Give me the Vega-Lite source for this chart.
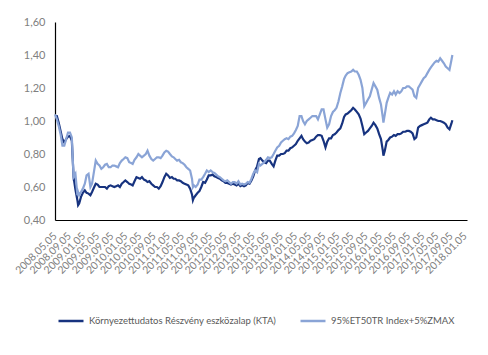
{
  "$schema": "https://vega.github.io/schema/vega-lite/v6.json",
  "width": 412,
  "height": 198,
  "autosize": {"type": "none"},
  "padding": {"left": 55, "top": 22, "right": 21, "bottom": 135},
  "background": "white",
  "config": {"view": {"stroke": null}, "font": "Lato"},
  "data": {"values": [
    {"d":"2008-05-05","a":1.03,"b":1.04},{"d":"2008-05-21","a":1.03,"b":1.01},{"d":"2008-06-06","a":0.99,"b":0.97},{"d":"2008-06-22","a":0.94,"b":0.92},
    {"d":"2008-07-08","a":0.89,"b":0.85},{"d":"2008-07-24","a":0.87,"b":0.85},{"d":"2008-08-09","a":0.89,"b":0.89},{"d":"2008-08-25","a":0.905,"b":0.93},
    {"d":"2008-09-11","a":0.91,"b":0.93},{"d":"2008-09-27","a":0.88,"b":0.90},{"d":"2008-10-12","a":0.66,"b":0.66},{"d":"2008-10-28","a":0.585,"b":0.68},
    {"d":"2008-11-14","a":0.52,"b":0.55},{"d":"2008-11-20","a":0.49,"b":0.57},{"d":"2008-11-29","a":0.50,"b":0.55},{"d":"2008-12-15","a":0.54,"b":0.57},
    {"d":"2008-12-31","a":0.565,"b":0.59},{"d":"2009-01-17","a":0.58,"b":0.62},{"d":"2009-02-01","a":0.565,"b":0.67},{"d":"2009-02-18","a":0.56,"b":0.68},
    {"d":"2009-03-06","a":0.55,"b":0.60},{"d":"2009-03-20","a":0.57,"b":0.62},{"d":"2009-04-05","a":0.595,"b":0.69},{"d":"2009-04-21","a":0.62,"b":0.76},
    {"d":"2009-05-07","a":0.615,"b":0.74},{"d":"2009-05-23","a":0.60,"b":0.73},{"d":"2009-06-08","a":0.60,"b":0.71},{"d":"2009-06-24","a":0.60,"b":0.72},
    {"d":"2009-07-10","a":0.60,"b":0.735},{"d":"2009-07-26","a":0.59,"b":0.74},{"d":"2009-08-11","a":0.605,"b":0.72},{"d":"2009-08-27","a":0.61,"b":0.72},
    {"d":"2009-09-12","a":0.605,"b":0.73},{"d":"2009-09-28","a":0.60,"b":0.73},{"d":"2009-10-14","a":0.605,"b":0.725},{"d":"2009-10-30","a":0.61,"b":0.72},
    {"d":"2009-11-15","a":0.60,"b":0.745},{"d":"2009-12-01","a":0.62,"b":0.76},{"d":"2009-12-17","a":0.63,"b":0.77},{"d":"2010-01-01","a":0.64,"b":0.78},
    {"d":"2010-01-18","a":0.63,"b":0.775},{"d":"2010-02-03","a":0.62,"b":0.75},{"d":"2010-02-20","a":0.615,"b":0.745},{"d":"2010-03-05","a":0.61,"b":0.74},
    {"d":"2010-03-21","a":0.635,"b":0.765},{"d":"2010-04-07","a":0.66,"b":0.78},{"d":"2010-04-23","a":0.655,"b":0.80},{"d":"2010-05-08","a":0.65,"b":0.79},
    {"d":"2010-05-24","a":0.66,"b":0.78},{"d":"2010-06-10","a":0.645,"b":0.79},{"d":"2010-06-26","a":0.64,"b":0.80},{"d":"2010-07-11","a":0.63,"b":0.82},
    {"d":"2010-07-27","a":0.635,"b":0.79},{"d":"2010-08-13","a":0.62,"b":0.77},{"d":"2010-08-29","a":0.61,"b":0.76},{"d":"2010-09-14","a":0.60,"b":0.77},
    {"d":"2010-09-30","a":0.60,"b":0.78},{"d":"2010-10-16","a":0.59,"b":0.78},{"d":"2010-11-01","a":0.605,"b":0.775},{"d":"2010-11-17","a":0.63,"b":0.79},
    {"d":"2010-12-03","a":0.66,"b":0.81},{"d":"2010-12-19","a":0.68,"b":0.82},{"d":"2011-01-04","a":0.67,"b":0.815},{"d":"2011-01-20","a":0.655,"b":0.80},
    {"d":"2011-02-06","a":0.66,"b":0.785},{"d":"2011-02-21","a":0.65,"b":0.78},{"d":"2011-03-07","a":0.65,"b":0.77},{"d":"2011-03-23","a":0.64,"b":0.76},
    {"d":"2011-04-09","a":0.64,"b":0.765},{"d":"2011-04-24","a":0.635,"b":0.75},{"d":"2011-05-10","a":0.625,"b":0.745},{"d":"2011-05-26","a":0.62,"b":0.735},
    {"d":"2011-06-11","a":0.615,"b":0.72},{"d":"2011-06-27","a":0.61,"b":0.71},{"d":"2011-07-13","a":0.59,"b":0.70},{"d":"2011-07-29","a":0.555,"b":0.65},
    {"d":"2011-08-06","a":0.52,"b":0.60},{"d":"2011-08-14","a":0.535,"b":0.61},{"d":"2011-08-30","a":0.55,"b":0.60},{"d":"2011-09-16","a":0.565,"b":0.615},
    {"d":"2011-10-01","a":0.575,"b":0.645},{"d":"2011-10-17","a":0.60,"b":0.645},{"d":"2011-11-02","a":0.63,"b":0.66},{"d":"2011-11-19","a":0.625,"b":0.68},
    {"d":"2011-12-04","a":0.645,"b":0.70},{"d":"2011-12-20","a":0.67,"b":0.69},{"d":"2012-01-06","a":0.67,"b":0.70},{"d":"2012-01-22","a":0.675,"b":0.69},
    {"d":"2012-02-07","a":0.665,"b":0.685},{"d":"2012-02-23","a":0.66,"b":0.675},{"d":"2012-03-09","a":0.655,"b":0.665},{"d":"2012-03-25","a":0.65,"b":0.66},
    {"d":"2012-04-10","a":0.64,"b":0.65},{"d":"2012-04-26","a":0.635,"b":0.64},{"d":"2012-05-12","a":0.625,"b":0.635},{"d":"2012-05-28","a":0.625,"b":0.64},
    {"d":"2012-06-13","a":0.62,"b":0.63},{"d":"2012-06-29","a":0.615,"b":0.62},{"d":"2012-07-15","a":0.62,"b":0.63},{"d":"2012-07-31","a":0.615,"b":0.63},
    {"d":"2012-08-16","a":0.61,"b":0.62},{"d":"2012-09-01","a":0.62,"b":0.635},{"d":"2012-09-18","a":0.605,"b":0.615},{"d":"2012-10-03","a":0.61,"b":0.62},
    {"d":"2012-10-19","a":0.605,"b":0.615},{"d":"2012-11-04","a":0.61,"b":0.62},{"d":"2012-11-20","a":0.625,"b":0.63},{"d":"2012-12-06","a":0.62,"b":0.625},
    {"d":"2012-12-22","a":0.64,"b":0.65},{"d":"2013-01-07","a":0.665,"b":0.68},{"d":"2013-01-23","a":0.70,"b":0.70},{"d":"2013-02-09","a":0.725,"b":0.69},
    {"d":"2013-02-25","a":0.77,"b":0.74},{"d":"2013-03-10","a":0.775,"b":0.73},{"d":"2013-03-26","a":0.76,"b":0.74},{"d":"2013-04-12","a":0.75,"b":0.75},
    {"d":"2013-04-28","a":0.745,"b":0.765},{"d":"2013-05-13","a":0.76,"b":0.78},{"d":"2013-05-29","a":0.76,"b":0.775},{"d":"2013-06-15","a":0.74,"b":0.78},
    {"d":"2013-07-01","a":0.725,"b":0.80},{"d":"2013-07-16","a":0.76,"b":0.82},{"d":"2013-08-01","a":0.79,"b":0.84},{"d":"2013-08-18","a":0.79,"b":0.85},
    {"d":"2013-09-03","a":0.80,"b":0.87},{"d":"2013-09-19","a":0.80,"b":0.88},{"d":"2013-10-05","a":0.805,"b":0.89},{"d":"2013-10-21","a":0.82,"b":0.895},
    {"d":"2013-11-06","a":0.82,"b":0.89},{"d":"2013-11-22","a":0.835,"b":0.905},{"d":"2013-12-08","a":0.84,"b":0.91},{"d":"2013-12-24","a":0.85,"b":0.925},
    {"d":"2014-01-09","a":0.86,"b":0.945},{"d":"2014-01-25","a":0.88,"b":0.97},{"d":"2014-02-10","a":0.895,"b":1.03},{"d":"2014-02-26","a":0.91,"b":1.03},
    {"d":"2014-03-12","a":0.89,"b":1.00},{"d":"2014-03-28","a":0.875,"b":0.98},{"d":"2014-04-13","a":0.865,"b":1.00},{"d":"2014-04-29","a":0.87,"b":1.01},
    {"d":"2014-05-15","a":0.88,"b":1.02},{"d":"2014-05-31","a":0.885,"b":1.03},{"d":"2014-06-16","a":0.89,"b":1.03},{"d":"2014-07-02","a":0.905,"b":1.03},
    {"d":"2014-07-18","a":0.915,"b":1.01},{"d":"2014-08-03","a":0.915,"b":1.04},{"d":"2014-08-19","a":0.91,"b":1.07},{"d":"2014-09-04","a":0.88,"b":1.07},
    {"d":"2014-09-21","a":0.84,"b":1.01},{"d":"2014-10-06","a":0.875,"b":0.96},{"d":"2014-10-22","a":0.895,"b":0.98},{"d":"2014-11-08","a":0.895,"b":1.03},
    {"d":"2014-11-24","a":0.915,"b":1.055},{"d":"2014-12-09","a":0.92,"b":1.065},{"d":"2014-12-25","a":0.93,"b":1.08},{"d":"2015-01-11","a":0.945,"b":1.12},
    {"d":"2015-01-27","a":0.955,"b":1.17},{"d":"2015-02-12","a":0.985,"b":1.21},{"d":"2015-02-28","a":1.025,"b":1.255},{"d":"2015-03-14","a":1.04,"b":1.275},
    {"d":"2015-03-30","a":1.045,"b":1.29},{"d":"2015-04-15","a":1.055,"b":1.295},{"d":"2015-05-01","a":1.065,"b":1.30},{"d":"2015-05-17","a":1.08,"b":1.31},
    {"d":"2015-06-01","a":1.07,"b":1.30},{"d":"2015-06-18","a":1.055,"b":1.30},{"d":"2015-07-04","a":1.04,"b":1.28},{"d":"2015-07-20","a":1.015,"b":1.25},
    {"d":"2015-08-05","a":0.97,"b":1.20},{"d":"2015-08-21","a":0.92,"b":1.09},{"d":"2015-09-06","a":0.93,"b":1.11},{"d":"2015-09-22","a":0.94,"b":1.13},
    {"d":"2015-10-08","a":0.955,"b":1.15},{"d":"2015-10-24","a":0.97,"b":1.19},{"d":"2015-11-09","a":0.99,"b":1.23},{"d":"2015-11-25","a":0.975,"b":1.21},
    {"d":"2015-12-11","a":0.955,"b":1.19},{"d":"2015-12-27","a":0.92,"b":1.14},{"d":"2016-01-12","a":0.89,"b":1.10},{"d":"2016-01-28","a":0.82,"b":1.02},
    {"d":"2016-02-02","a":0.79,"b":0.99},{"d":"2016-02-14","a":0.82,"b":1.04},{"d":"2016-03-01","a":0.875,"b":1.11},{"d":"2016-03-15","a":0.885,"b":1.14},
    {"d":"2016-03-31","a":0.90,"b":1.17},{"d":"2016-04-17","a":0.905,"b":1.16},{"d":"2016-05-03","a":0.915,"b":1.18},{"d":"2016-05-18","a":0.91,"b":1.16},
    {"d":"2016-06-03","a":0.92,"b":1.18},{"d":"2016-06-20","a":0.92,"b":1.17},{"d":"2016-07-05","a":0.925,"b":1.18},{"d":"2016-07-21","a":0.935,"b":1.20},
    {"d":"2016-08-07","a":0.935,"b":1.20},{"d":"2016-08-23","a":0.94,"b":1.21},{"d":"2016-09-08","a":0.94,"b":1.21},{"d":"2016-09-24","a":0.935,"b":1.20},
    {"d":"2016-10-10","a":0.925,"b":1.19},{"d":"2016-10-26","a":0.89,"b":1.15},{"d":"2016-11-11","a":0.90,"b":1.14},{"d":"2016-11-27","a":0.96,"b":1.20},
    {"d":"2016-12-13","a":0.97,"b":1.22},{"d":"2016-12-29","a":0.975,"b":1.24},{"d":"2017-01-14","a":0.98,"b":1.26},{"d":"2017-01-30","a":0.985,"b":1.27},
    {"d":"2017-02-15","a":0.99,"b":1.29},{"d":"2017-03-03","a":1.01,"b":1.31},{"d":"2017-03-17","a":1.02,"b":1.325},{"d":"2017-04-02","a":1.01,"b":1.34},
    {"d":"2017-04-18","a":1.01,"b":1.355},{"d":"2017-05-04","a":1.005,"b":1.365},{"d":"2017-05-20","a":1.00,"b":1.36},{"d":"2017-06-05","a":1.00,"b":1.38},
    {"d":"2017-06-21","a":0.995,"b":1.365},{"d":"2017-07-07","a":0.99,"b":1.35},{"d":"2017-07-23","a":0.98,"b":1.33},{"d":"2017-08-08","a":0.96,"b":1.32},
    {"d":"2017-08-24","a":0.95,"b":1.31},{"d":"2017-09-10","a":0.985,"b":1.37},{"d":"2017-09-18","a":1.005,"b":1.40}
  ]},
  "transform": [{"fold": ["a", "b"], "as": ["series", "v"]}],
  "mark": {"type": "line", "strokeWidth": 2.2},
  "encoding": {
    "x": {
      "field": "d", "type": "temporal",
      "scale": {"domain": [{"year": 2008, "month": 5, "date": 5, "utc": true}, {"year": 2018, "month": 1, "date": 22, "utc": true}]},
      "axis": {
        "title": null,
        "values": [
          {"year":2008,"month":5,"date":5,"utc":true},{"year":2008,"month":9,"date":5,"utc":true},
          {"year":2009,"month":1,"date":5,"utc":true},{"year":2009,"month":5,"date":5,"utc":true},{"year":2009,"month":9,"date":5,"utc":true},
          {"year":2010,"month":1,"date":5,"utc":true},{"year":2010,"month":5,"date":5,"utc":true},{"year":2010,"month":9,"date":5,"utc":true},
          {"year":2011,"month":1,"date":5,"utc":true},{"year":2011,"month":5,"date":5,"utc":true},{"year":2011,"month":9,"date":5,"utc":true},
          {"year":2012,"month":1,"date":5,"utc":true},{"year":2012,"month":5,"date":5,"utc":true},{"year":2012,"month":9,"date":5,"utc":true},
          {"year":2013,"month":1,"date":5,"utc":true},{"year":2013,"month":5,"date":5,"utc":true},{"year":2013,"month":9,"date":5,"utc":true},
          {"year":2014,"month":1,"date":5,"utc":true},{"year":2014,"month":5,"date":5,"utc":true},{"year":2014,"month":9,"date":5,"utc":true},
          {"year":2015,"month":1,"date":5,"utc":true},{"year":2015,"month":5,"date":5,"utc":true},{"year":2015,"month":9,"date":5,"utc":true},
          {"year":2016,"month":1,"date":5,"utc":true},{"year":2016,"month":5,"date":5,"utc":true},{"year":2016,"month":9,"date":5,"utc":true},
          {"year":2017,"month":1,"date":5,"utc":true},{"year":2017,"month":5,"date":5,"utc":true},{"year":2017,"month":9,"date":5,"utc":true},
          {"year":2018,"month":1,"date":5,"utc":true}
        ],
        "labelExpr": "utcFormat(datum.value, '%Y.%m.%d')",
        "labelAngle": -45, "labelAlign": "right", "labelBaseline": "middle",
        "labelPadding": 14,
        "labelOverlap": false, "labelBound": false, "labelFlush": false,
        "labelFontSize": 10.5, "labelColor": "#808080",
        "ticks": false, "grid": false, "domainColor": "#000000", "domainWidth": 1.2
      }
    },
    "y": {
      "field": "v", "type": "quantitative",
      "scale": {"domain": [0.4, 1.6], "nice": false, "zero": false},
      "axis": {
        "title": null,
        "values": [0.4, 0.6, 0.8, 1.0, 1.2, 1.4, 1.6],
        "labelExpr": "replace(format(datum.value, '.2f'), '.', ',')",
        "labelOverlap": false,
        "labelFontSize": 11, "labelColor": "#808080", "labelPadding": 10,
        "ticks": false, "grid": false, "domainColor": "#000000", "domainWidth": 1.2
      }
    },
    "color": {
      "field": "series", "type": "nominal",
      "scale": {"domain": ["a", "b"], "range": ["#17337f", "#8aa4d6"]},
      "legend": {
        "title": null, "orient": "none", "legendX": 2, "legendY": 285,
        "direction": "horizontal", "symbolType": "stroke", "symbolSize": 625,
        "symbolStrokeWidth": 2.5, "labelFontSize": 9.5, "labelColor": "#595959",
        "labelLimit": 400, "columnPadding": 18,
        "labelExpr": "datum.value == 'a' ? 'Környezettudatos Részvény eszközalap (KTA)' : '95%ET50TR Index+5%ZMAX'"
      }
    }
  }
}
